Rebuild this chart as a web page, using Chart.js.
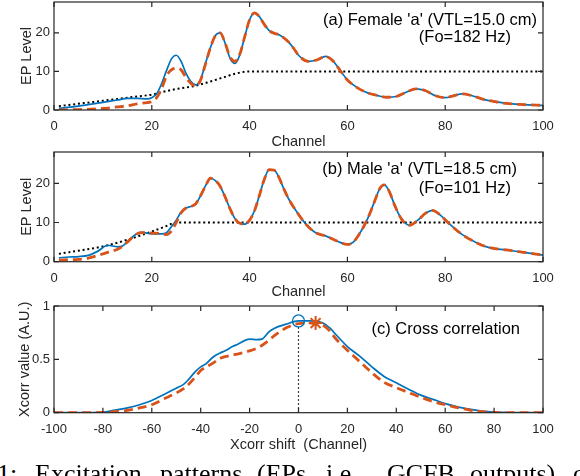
<!DOCTYPE html>
<html>
<head>
<meta charset="utf-8">
<script src="https://cdn.jsdelivr.net/npm/chart.js@4.4.1/dist/chart.umd.min.js"></script>
<style>
  html, body { margin: 0; padding: 0; background: #fff; }
  body { width: 580px; height: 476px; overflow: hidden; position: relative; }
  canvas { position: absolute; left: 0; }
  .cap { position: absolute; top: 461px; line-height: 26px; font-family: "Liberation Serif", serif; font-size: 26px; color: #000; white-space: pre; }
</style>
</head>
<body>
<canvas id="chartA" width="580" height="149" style="top:0px"></canvas>
<canvas id="chartB" width="580" height="151" style="top:148px"></canvas>
<canvas id="chartC" width="580" height="155" style="top:297px"></canvas>

<span class="cap" style="left:-3px">1:</span>
<span class="cap" style="left:35px">Excitation</span>
<span class="cap" style="left:160px">patterns</span>
<span class="cap" style="left:257px">(EPs,</span>
<span class="cap" style="left:326px">i.e.,</span>
<span class="cap" style="left:387px">GCFB</span>
<span class="cap" style="left:470px">outputs)</span>
<span class="cap" style="left:573px">of</span>

<script>
// ---- data ----

// (a) female 'a'
const aCh = [1, 5, 10, 13, 15, 17, 19, 20, 21, 22, 23, 24, 25, 26, 27, 28, 29, 30, 31, 32, 33, 34, 35, 36, 37, 38, 39, 40,
  41, 42, 43, 44, 45, 46, 47, 48, 49, 50, 52, 54, 55.5, 57, 58.5, 60, 62, 64, 66, 68, 70, 72, 74, 76, 78, 80,
  81.5, 83.5, 85.5, 88, 90, 92.5, 96, 100];
const aBlue = [0.4, 1.0, 2.0, 2.6, 3.0, 3.0, 2.9, 3.2, 4.2, 6.8, 10.2, 13.2, 14.2, 12.6, 9.5, 7.4, 6.5, 8.0, 12.2, 16.2, 19.3, 20.0, 17.3, 13.4, 12.1, 14.3, 19.0, 23.4,
  25.2, 24.2, 22.2, 20.6, 19.9, 19.5, 18.7, 17.6, 16.0, 14.2, 12.6, 13.1, 13.9, 12.8, 10.3, 7.8, 5.8, 4.5, 3.8, 3.3, 3.5, 4.6, 5.5, 5.0, 3.7, 3.2,
  3.6, 4.2, 3.7, 2.7, 2.2, 1.7, 1.4, 1.2];
const aOrange = [0.0, 0.1, 0.4, 0.8, 1.1, 1.6, 1.9, 2.2, 3.2, 5.5, 8.8, 10.4, 10.8, 10.4, 8.4, 6.9, 6.2, 7.8, 12.0, 16.2, 19.3, 20.0, 17.3, 13.8, 12.6, 14.5, 19.0, 23.4,
  25.2, 24.2, 22.2, 20.6, 19.9, 19.5, 18.7, 17.6, 16.0, 14.2, 12.6, 13.1, 13.9, 12.8, 10.3, 7.8, 5.8, 4.5, 3.8, 3.3, 3.5, 4.6, 5.5, 5.0, 3.7, 3.2,
  3.6, 4.2, 3.7, 2.7, 2.2, 1.7, 1.4, 1.2];
const aRefCh = [1, 10, 17, 20, 24, 29, 32, 35, 37, 39, 41, 100];
const aRef = [1.0, 2.4, 3.5, 4.0, 5.2, 6.3, 7.4, 8.6, 9.4, 9.9, 10, 10];

// (b) male 'a'
const bCh = [1, 3, 5, 7, 9, 11, 13, 14, 15, 17, 18, 20, 22, 23, 24, 25, 26, 27, 28, 29, 30, 31, 32, 33, 34, 35, 36, 37, 38, 39, 40,
  41, 42, 43, 44, 45, 46, 47, 48, 49.5, 51.5, 53.5, 55.5, 58, 60, 61.2, 62.5, 64, 65.5, 66.6, 67.5, 68.5, 69.7, 71, 72.7, 74.4,
  76, 77.4, 79, 81, 83.5, 86.5, 89, 92.5, 96, 100];
const bBlue = [1.0, 1.2, 1.3, 1.6, 2.7, 4.2, 3.8, 4.0, 5.1, 7.2, 7.5, 7.1, 7.1, 7.4, 8.9, 10.6, 12.7, 13.7, 14.1, 14.8, 16.9, 19.4, 21.3, 20.7, 19.2, 16.5, 13.5, 11.0, 9.8, 9.6, 10.6,
  13.0, 16.9, 21.0, 23.5, 23.4, 21.5, 18.6, 16.0, 13.0, 9.6, 7.4, 6.6, 5.2, 4.4, 5.0, 7.2, 10.6, 15.2, 18.6, 19.6, 18.1, 14.3, 11.0, 9.3, 10.6,
  12.4, 13.1, 11.9, 9.5, 6.9, 4.8, 3.6, 3.0, 2.4, 1.7];
const bOrange = [0.4, 0.5, 0.6, 0.9, 1.6, 2.4, 3.2, 3.9, 5.0, 7.1, 7.4, 7.3, 7.2, 6.9, 7.8, 10.0, 12.5, 13.7, 14.1, 14.8, 16.9, 19.4, 21.3, 20.7, 19.2, 16.5, 13.5, 11.0, 9.8, 9.6, 10.6,
  13.0, 16.9, 21.0, 23.5, 23.4, 21.5, 18.6, 16.0, 13.0, 9.6, 7.4, 6.6, 5.2, 4.4, 5.0, 7.2, 10.6, 15.2, 18.6, 19.6, 18.1, 14.3, 11.0, 9.3, 10.6,
  12.4, 13.1, 11.9, 9.5, 6.9, 4.8, 3.6, 3.0, 2.4, 1.7];
const bRefCh = [1, 5, 10, 15, 20, 23, 25, 26, 100];
const bRef = [2.0, 2.8, 3.9, 5.6, 7.7, 9.1, 10, 10, 10];

// (c) cross correlation
const cShift = [-100, -90, -80, -75, -70, -65, -60, -55, -50, -47, -45, -42, -40, -38, -35, -32, -30, -27, -25, -20, -17, -15, -12, -10, -5,
  0, 5, 10, 13, 15, 20, 25, 30, 35, 40, 45, 50, 55, 60, 65, 70, 75, 80, 85, 90, 100];
const cBlue = [0, 0, 0.005, 0.025, 0.045, 0.075, 0.115, 0.17, 0.23, 0.265, 0.31, 0.39, 0.43, 0.455, 0.52, 0.56, 0.58, 0.62, 0.64, 0.69, 0.685, 0.69, 0.76, 0.79, 0.83,
  0.86, 0.86, 0.84, 0.79, 0.74, 0.62, 0.53, 0.43, 0.34, 0.28, 0.22, 0.165, 0.125, 0.085, 0.055, 0.033, 0.015, 0.006, 0.002, 0, 0];
const cOrange = [0, 0, 0.002, 0.01, 0.022, 0.045, 0.075, 0.13, 0.185, 0.225, 0.265, 0.34, 0.395, 0.425, 0.465, 0.51, 0.525, 0.54, 0.55, 0.58, 0.605, 0.63, 0.68, 0.72, 0.795,
  0.835, 0.84, 0.82, 0.76, 0.70, 0.585, 0.48, 0.375, 0.285, 0.235, 0.19, 0.145, 0.105, 0.075, 0.048, 0.025, 0.01, 0.003, 0, 0, 0];
const peakBlue = [0, 0.86];
const peakOrange = [7, 0.84];

// tick labels
const chTicks = [0, 20, 40, 60, 80, 100];
const epTicks = [0, 10, 20];
const shiftTicks = [-100, -80, -60, -40, -20, 0, 20, 40, 60, 80, 100];
const xcorrTicks = [0, 0.5, 1];

// ---- drawing ----
const BLUE = '#0072BD', ORANGE = '#D95319', AX = '#262626';
const SANS = '"Liberation Sans", Arial, sans-serif';

const pts = (xs, ys) => xs.map((x, i) => ({x: x, y: ys[i]}));

const blueLine = (d) => ({data: d, borderColor: BLUE, borderWidth: 1.7, pointRadius: 0, cubicInterpolationMode: 'monotone', order: 1});
const orangeLine = (d) => ({data: d, borderColor: ORANGE, borderWidth: 2.8, borderDash: [9, 5], pointRadius: 0, cubicInterpolationMode: 'monotone', order: 0});
const dotLine = (d) => ({data: d, borderColor: '#000', borderWidth: 2, borderDash: [2, 2.8], pointRadius: 0, cubicInterpolationMode: 'monotone', order: 2});

// MATLAB-style box with inward ticks on all sides, plus the panel notes
const boxPlugin = {
  id: 'matlabBox',
  afterDraw(chart, args, opts) {
    const {ctx, chartArea: a, scales: {x, y}} = chart;
    ctx.save();
    ctx.strokeStyle = AX;
    ctx.lineWidth = 1.2;
    ctx.strokeRect(a.left, a.top, a.right - a.left, a.bottom - a.top);
    ctx.beginPath();
    x.ticks.forEach(t => {
      const px = x.getPixelForValue(t.value);
      ctx.moveTo(px, a.bottom); ctx.lineTo(px, a.bottom - 5);
      ctx.moveTo(px, a.top); ctx.lineTo(px, a.top + 5);
    });
    y.ticks.forEach(t => {
      const py = y.getPixelForValue(t.value);
      ctx.moveTo(a.left, py); ctx.lineTo(a.left + 5, py);
      ctx.moveTo(a.right, py); ctx.lineTo(a.right - 5, py);
    });
    ctx.stroke();
    ctx.fillStyle = '#000';
    ctx.font = '16.5px ' + SANS;
    ctx.textAlign = 'right';
    ctx.textBaseline = 'middle';
    (opts.notes || []).forEach(n => ctx.fillText(n[0], a.right - n[1], a.top + n[2]));
    ctx.restore();
  }
};

function makePanel(id, p) {
  const H = document.getElementById(id).height;
  return new Chart(document.getElementById(id), {
    type: 'line',
    data: {datasets: p.datasets},
    plugins: [boxPlugin],
    options: {
      responsive: false,
      animation: false,
      layout: {padding: {top: p.plotTop, right: 37, left: 0, bottom: 0}},
      plugins: {legend: {display: false}, tooltip: {enabled: false}, matlabBox: {notes: p.notes}},
      scales: {
        x: {
          type: 'linear', min: p.xMin, max: p.xMax,
          grid: {display: false, drawTicks: false}, border: {display: false},
          afterBuildTicks: s => { s.ticks = p.xTicks.map(v => ({value: v})); },
          afterFit: s => { s.height = H - p.plotBottom; s.paddingLeft = 0; s.paddingRight = 0; },
          ticks: {color: AX, font: {family: SANS, size: 13}, padding: 9, maxRotation: 0, autoSkip: false, callback: v => String(v)},
          title: {display: true, text: p.xTitle, color: AX, font: {family: SANS, size: 14.5, lineHeight: 1}, padding: {top: 0, bottom: 0}}
        },
        y: {
          type: 'linear', min: p.yMin, max: p.yMax,
          grid: {display: false, drawTicks: false}, border: {display: false},
          afterBuildTicks: s => { s.ticks = p.yTicks.map(v => ({value: v})); },
          afterFit: s => { s.width = 54; s.paddingTop = 0; s.paddingBottom = 0; },
          ticks: {color: AX, font: {family: SANS, size: 13}, padding: 4, autoSkip: false, callback: v => String(v)},
          title: {display: true, text: p.yTitle, color: AX, font: {family: SANS, size: 14.5, lineHeight: 1}, padding: {top: p.yTitlePad, bottom: 0}}
        }
      }
    }
  });
}

makePanel('chartA', {
  plotTop: 2, plotBottom: 110, xMin: 0, xMax: 100, yMin: 0, yMax: 28,
  xTicks: chTicks, yTicks: epTicks, xTitle: 'Channel', yTitle: 'EP Level', yTitlePad: 19.75,
  notes: [["(a) Female 'a' (VTL=15.0 cm)", 6, 18], ['(Fo=182 Hz)', 32, 35.5]],
  datasets: [orangeLine(pts(aCh, aOrange)), blueLine(pts(aCh, aBlue)), dotLine(pts(aRefCh, aRef))]
});

makePanel('chartB', {
  plotTop: 4, plotBottom: 113.7, xMin: 0, xMax: 100, yMin: 0, yMax: 28,
  xTicks: chTicks, yTicks: epTicks, xTitle: 'Channel', yTitle: 'EP Level', yTitlePad: 19.75,
  notes: [["(b) Male 'a' (VTL=18.5 cm)", 26, 17], ['(Fo=101 Hz)', 32, 36]],
  datasets: [orangeLine(pts(bCh, bOrange)), blueLine(pts(bCh, bBlue)), dotLine(pts(bRefCh, bRef))]
});

makePanel('chartC', {
  plotTop: 5, plotBottom: 115.7, xMin: -100, xMax: 100, yMin: 0, yMax: 1,
  xTicks: shiftTicks, yTicks: xcorrTicks, xTitle: 'Xcorr shift  (Channel)', yTitle: 'Xcorr value (A.U.)', yTitlePad: 17.25,
  notes: [['(c) Cross correlation', 23, 23.5]],
  datasets: [
    {data: [{x: peakBlue[0], y: peakBlue[1]}], showLine: false, pointStyle: 'circle', pointRadius: 6, borderColor: BLUE, backgroundColor: 'rgba(0,0,0,0)', pointBorderWidth: 1.3, order: -1},
    {data: [{x: peakOrange[0], y: peakOrange[1]}], showLine: false, pointStyle: 'star', pointRadius: 7, borderColor: ORANGE, pointBorderWidth: 2, order: -1},
    {data: [{x: peakBlue[0], y: 0}, {x: peakBlue[0], y: peakBlue[1]}], borderColor: '#000', borderWidth: 1.2, borderDash: [1.5, 2.5], pointRadius: 0, order: 3},
    orangeLine(pts(cShift, cOrange)),
    blueLine(pts(cShift, cBlue))
  ]
});
</script>
</body>
</html>
